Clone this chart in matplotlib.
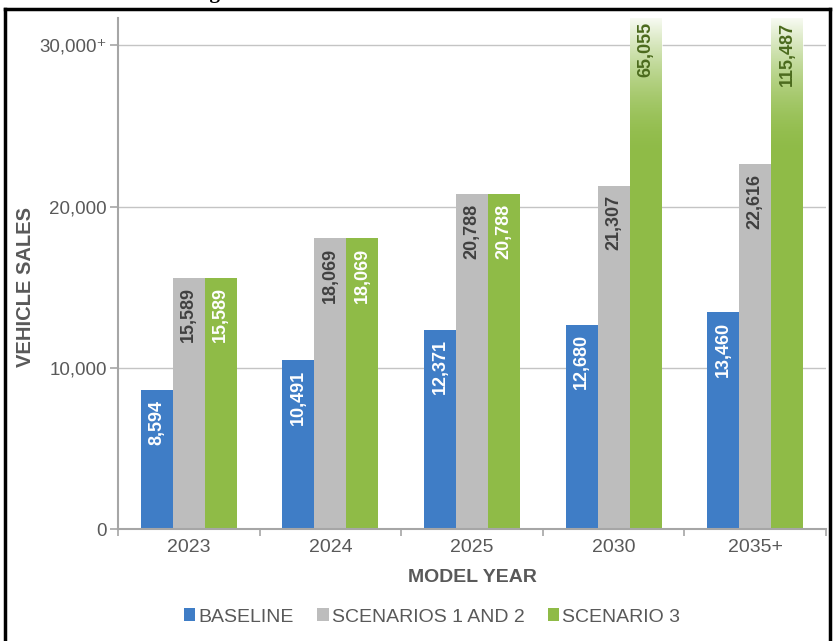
import numpy as np
import matplotlib
matplotlib.use("Agg")
import matplotlib.pyplot as plt
from matplotlib.lines import Line2D
from matplotlib.patches import Patch

plt.rcParams['font.family'] = ['Liberation Sans', 'DejaVu Sans']

years = ['2023', '2024', '2025', '2030', '2035+']
baseline = [8594, 10491, 12371, 12680, 13460]
scen12 = [15589, 18069, 20788, 21307, 22616]
scen3 = [15589, 18069, 20788, 65055, 115487]
series_names = ['BASELINE', 'SCENARIOS 1 AND 2', 'SCENARIO 3']
yticks = [0, 10000, 20000, 30000]
ytick_labels = ['0', '10,000', '20,000', '30,000⁺']

blue = '#3f7dc6'
grey = '#bdbdbd'
green = '#8fbb47'
txt = '#595959'
ymax = 31700

fig = plt.figure(figsize=(8.34, 6.41), dpi=100)
ax = fig.add_axes([118/834, 112/641, 708/834, 511/641])

x = np.arange(len(years))
w = 0.226
series = [baseline, scen12, scen3]
colors = [blue, grey, green]
lab_colors = ['white', '#404040', 'white']

for i, (vals, c, lc) in enumerate(zip(series, colors, lab_colors)):
    xs = x + (i - 1) * w
    ax.bar(xs, vals, w, color=c, zorder=2)
    for xi, v in zip(xs, vals):
        if v > ymax:
            # bars running off the top fade out to white
            grad = np.linspace(0, 1, 200) ** 1.8
            img = np.ones((200, 1, 4))
            img[:, 0, 3] = grad * 0.95
            ax.imshow(img, extent=[xi - w/2, xi + w/2, 23000, ymax],
                      origin='lower', aspect='auto', zorder=3,
                      interpolation='bilinear')
            ax.text(xi, ymax - 250, f'{v:,}', rotation=90, ha='center',
                    va='top', color='#4b6a1d', fontsize=13, fontweight='bold',
                    zorder=4)
        else:
            ax.annotate(f'{v:,}', (xi, v), xytext=(0, -7),
                        textcoords='offset points', rotation=90,
                        ha='center', va='top', color=lc, fontsize=13,
                        fontweight='bold', zorder=4)

ax.set_xlim(-0.5, len(years) - 0.5)
ax.set_ylim(0, ymax)
ax.set_yticks(yticks)
ax.set_yticklabels(ytick_labels)
ax.set_xticks(x)
ax.set_xticklabels(years)
ax.set_xticks(np.arange(len(years) + 1) - 0.5, minor=True)
ax.tick_params(axis='x', which='major', length=0, labelsize=14,
               labelcolor=txt, pad=7)
ax.tick_params(axis='x', which='minor', length=5, color='#a6a6a6', width=1.2)
ax.tick_params(axis='y', length=6, color='#a6a6a6', width=1.2,
               labelsize=13.5, labelcolor=txt, pad=2)
ax.yaxis.grid(True, color='#c4c4c4', lw=1, zorder=0)
ax.set_axisbelow(True)
for s in ['top', 'right']:
    ax.spines[s].set_visible(False)
for s in ['left', 'bottom']:
    ax.spines[s].set_color('#a6a6a6')
    ax.spines[s].set_linewidth(1.5)

fig.text(472/834, 1 - 577/641, 'MODEL YEAR', ha='center', va='center',
         fontsize=14, fontweight='bold', color=txt)
fig.text(26/834, 1 - 287/641, 'VEHICLE SALES', ha='center', va='center',
         rotation=90, fontsize=14.5, fontweight='bold', color=txt)

handles = [Patch(facecolor=c, edgecolor='none') for c in colors]
fig.legend(handles, series_names, loc='center', bbox_to_anchor=(432/834, 1 - 617/641),
           ncol=3, frameon=False, fontsize=14, labelcolor=txt,
           handlelength=0.6, handleheight=0.6, handletextpad=0.15,
           columnspacing=1.2)

# page frame and the clipped caption above it
fig.add_artist(Line2D([5/834, 5/834], [0, 1 - 9/641], color='black', lw=2.5))
fig.add_artist(Line2D([5/834, 830/834], [1 - 9/641, 1 - 9/641], color='black', lw=2.5))
fig.add_artist(Line2D([830/834, 830/834], [0, 1 - 9/641], color='black', lw=2.5))
fig.text(192/834, 1 + 2/641, 'Figure', family='Liberation Serif',
         fontweight='bold', fontsize=15, va='baseline', ha='left')

fig.savefig('out.png', dpi=100)
